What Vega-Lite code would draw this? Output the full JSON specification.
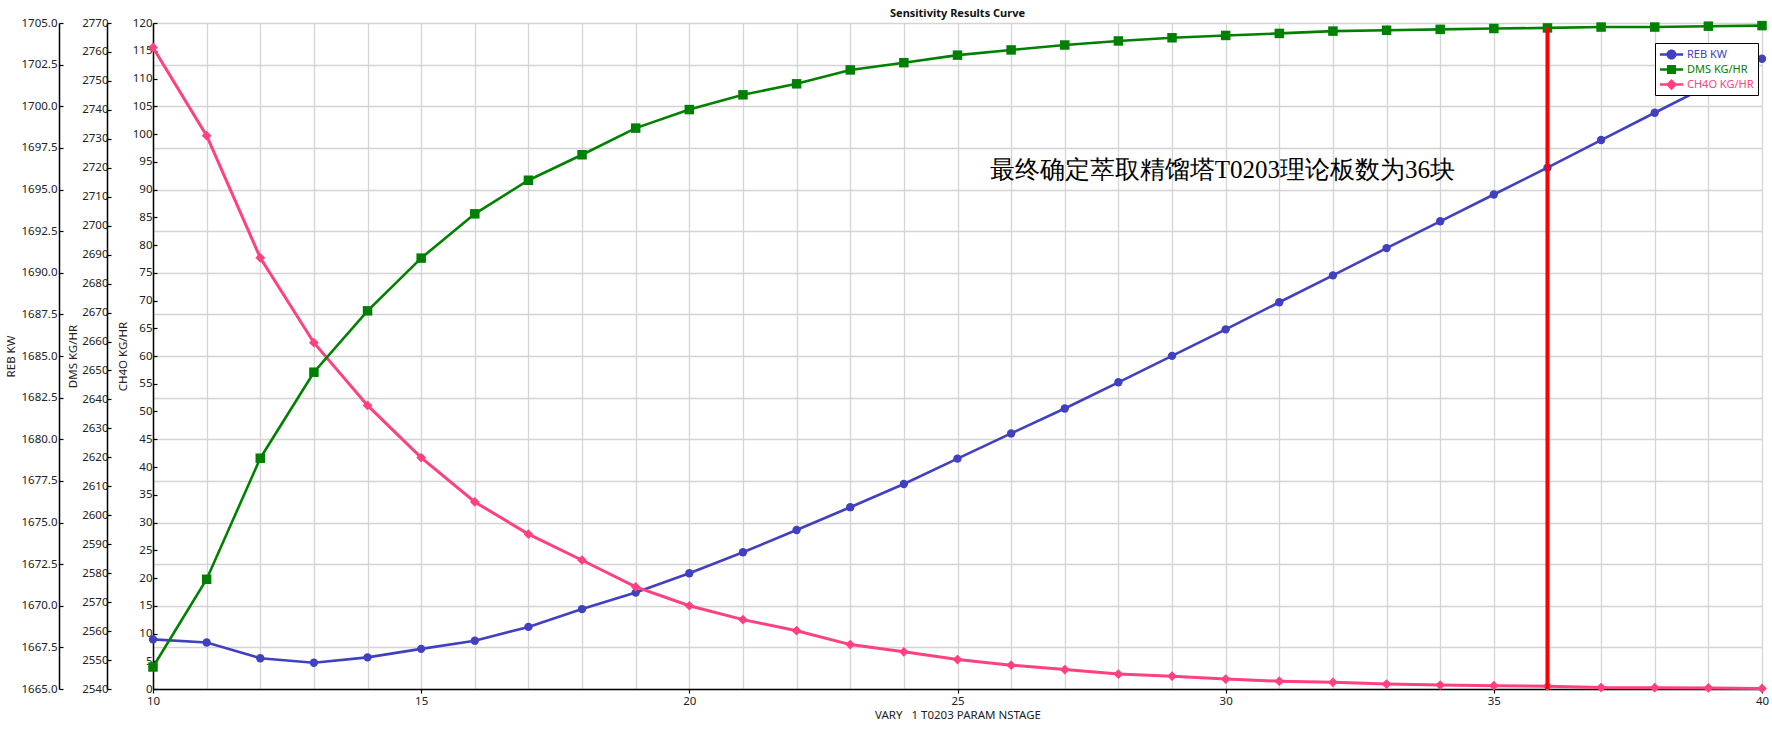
{
  "$schema": "https://vega.github.io/schema/vega-lite/v6.json",
  "description": "Sensitivity Results Curve - T0203 NSTAGE",
  "width": 1609,
  "height": 666,
  "autosize": {"type": "none"},
  "padding": {"left": 153, "top": 23, "right": 10, "bottom": 41},
  "title": {
    "text": "Sensitivity Results Curve",
    "font": "Noto Sans",
    "fontSize": 11,
    "fontWeight": "bold",
    "color": "#111111",
    "offset": -2
  },
  "datasets": {
    "sens": [
      {"stage": 10, "reb": 1667.98, "dms": 2547.6, "ch4o": 115.6},
      {"stage": 11, "reb": 1667.79, "dms": 2577.9, "ch4o": 99.7},
      {"stage": 12, "reb": 1666.85, "dms": 2619.7, "ch4o": 77.7},
      {"stage": 13, "reb": 1666.58, "dms": 2649.4, "ch4o": 62.4},
      {"stage": 14, "reb": 1666.90, "dms": 2670.6, "ch4o": 51.1},
      {"stage": 15, "reb": 1667.41, "dms": 2688.8, "ch4o": 41.7},
      {"stage": 16, "reb": 1667.90, "dms": 2704.1, "ch4o": 33.7},
      {"stage": 17, "reb": 1668.73, "dms": 2715.7, "ch4o": 27.9},
      {"stage": 18, "reb": 1669.80, "dms": 2724.5, "ch4o": 23.2},
      {"stage": 19, "reb": 1670.79, "dms": 2733.7, "ch4o": 18.4},
      {"stage": 20, "reb": 1671.95, "dms": 2740.1, "ch4o": 15.0},
      {"stage": 21, "reb": 1673.21, "dms": 2745.2, "ch4o": 12.5},
      {"stage": 22, "reb": 1674.55, "dms": 2749.0, "ch4o": 10.5},
      {"stage": 23, "reb": 1675.92, "dms": 2753.8, "ch4o": 8.0},
      {"stage": 24, "reb": 1677.31, "dms": 2756.3, "ch4o": 6.7},
      {"stage": 25, "reb": 1678.84, "dms": 2758.9, "ch4o": 5.3},
      {"stage": 26, "reb": 1680.35, "dms": 2760.7, "ch4o": 4.3},
      {"stage": 27, "reb": 1681.85, "dms": 2762.4, "ch4o": 3.5},
      {"stage": 28, "reb": 1683.42, "dms": 2763.8, "ch4o": 2.7},
      {"stage": 29, "reb": 1685.01, "dms": 2764.9, "ch4o": 2.3},
      {"stage": 30, "reb": 1686.60, "dms": 2765.7, "ch4o": 1.8},
      {"stage": 31, "reb": 1688.23, "dms": 2766.4, "ch4o": 1.4},
      {"stage": 32, "reb": 1689.84, "dms": 2767.2, "ch4o": 1.2},
      {"stage": 33, "reb": 1691.48, "dms": 2767.5, "ch4o": 0.9},
      {"stage": 34, "reb": 1693.09, "dms": 2767.8, "ch4o": 0.7},
      {"stage": 35, "reb": 1694.70, "dms": 2768.1, "ch4o": 0.6},
      {"stage": 36, "reb": 1696.31, "dms": 2768.3, "ch4o": 0.5},
      {"stage": 37, "reb": 1697.97, "dms": 2768.6, "ch4o": 0.25},
      {"stage": 38, "reb": 1699.61, "dms": 2768.6, "ch4o": 0.24},
      {"stage": 39, "reb": 1701.24, "dms": 2768.9, "ch4o": 0.2},
      {"stage": 40, "reb": 1702.85, "dms": 2769.1, "ch4o": 0.1}
    ]
  },
  "data": {"name": "sens"},
  "encoding": {
    "x": {
      "field": "stage",
      "type": "quantitative",
      "scale": {"domain": [10, 40], "nice": false, "zero": false},
      "axis": {
        "title": "VARY\u00a0\u00a0\u00a01 T0203 PARAM NSTAGE",
        "values": [10, 11, 12, 13, 14, 15, 16, 17, 18, 19, 20, 21, 22, 23, 24, 25, 26, 27, 28, 29, 30, 31, 32, 33, 34, 35, 36, 37, 38, 39, 40],
        "labelExpr": "datum.value % 5 === 0 ? datum.label : ''",
        "tickOpacity": {"condition": {"test": "datum.value % 5 === 0", "value": 1}, "value": 0},
        "tickSize": 4,
        "labelPadding": 2,
        "titlePadding": 3,
        "grid": true,
        "labelFlush": false
      }
    }
  },
  "layer": [
    {
      "encoding": {
        "y": {
          "field": "reb",
          "type": "quantitative",
          "scale": {"domain": [1665, 1705], "nice": false, "zero": false},
          "axis": {
            "title": "REB KW",
            "orient": "left",
            "offset": 94,
            "values": [1665, 1667.5, 1670, 1672.5, 1675, 1677.5, 1680, 1682.5, 1685, 1687.5, 1690, 1692.5, 1695, 1697.5, 1700, 1702.5, 1705],
            "format": ".1f",
            "grid": true,
            "tickSize": -4,
            "labelPadding": 6,
            "titlePadding": 5
          }
        },
        "color": {
          "datum": "REB KW",
          "scale": {"domain": ["REB KW", "DMS KG/HR", "CH4O KG/HR"], "range": ["#4040c0", "#008000", "#ff4081"]},
          "legend": {
            "title": null,
            "orient": "none",
            "legendX": 1502,
            "legendY": 20,
            "padding": 4,
            "symbolOffset": 5,
            "symbolSize": 225,
            "labelOffset": 8,
            "rowPadding": 2,
            "strokeColor": "#000000",
            "fillColor": "#ffffff",
            "labelFont": "Noto Sans",
            "labelFontSize": 11,
            "encode": {
              "labels": {"update": {"fill": {"scale": "color", "field": "value"}}},
              "symbols": {
                "update": {
                  "shape": {"signal": "datum.value === 'REB KW' ? 'M-1.55,-0.17H1.55V0.17H-1.55Z M0.67,0A0.67,0.67,0,1,1,-0.67,0A0.67,0.67,0,1,1,0.67,0Z' : datum.value === 'DMS KG/HR' ? 'M-1.55,-0.17H1.55V0.17H-1.55Z M-0.6,-0.6H0.6V0.6H-0.6Z' : 'M-1.55,-0.17H1.55V0.17H-1.55Z M0,-0.75L0.75,0L0,0.75L-0.75,0Z'"},
                  "size": {"value": 225},
                  "fill": {"scale": "color", "field": "value"},
                  "fillOpacity": {"value": 1},
                  "strokeWidth": {"value": 0}
                }
              }
            }
          }
        }
      },
      "layer": [
        {"mark": {"type": "line", "strokeWidth": 2.6}},
        {"mark": {"type": "point", "shape": "circle", "filled": true, "size": 70, "opacity": 1}}
      ]
    },
    {
      "encoding": {
        "y": {
          "field": "ch4o",
          "type": "quantitative",
          "scale": {"domain": [0, 120], "nice": false, "zero": false},
          "axis": {
            "title": "CH4O KG/HR",
            "orient": "left",
            "offset": 0,
            "values": [0, 5, 10, 15, 20, 25, 30, 35, 40, 45, 50, 55, 60, 65, 70, 75, 80, 85, 90, 95, 100, 105, 110, 115, 120],
            "grid": false,
            "tickSize": -4,
            "labelPadding": 5,
            "titlePadding": 4
          }
        },
        "color": {"datum": "CH4O KG/HR"}
      },
      "layer": [
        {"mark": {"type": "line", "strokeWidth": 3}},
        {"mark": {"type": "point", "shape": "diamond", "filled": true, "size": 95, "opacity": 1}},
        {
          "data": {"values": [{"note": "最终确定萃取精馏塔T0203理论板数为36块", "at_stage": 25.6, "at_ch4o": 93.6}]},
          "mark": {"type": "text", "align": "left", "baseline": "middle", "font": "Liberation Serif", "fontSize": 25},
          "encoding": {
            "x": {"field": "at_stage", "type": "quantitative"},
            "y": {"field": "at_ch4o", "type": "quantitative"},
            "text": {"field": "note", "type": "nominal"},
            "color": {"value": "#000000"}
          }
        }
      ]
    },
    {
      "encoding": {
        "y": {
          "field": "dms",
          "type": "quantitative",
          "scale": {"domain": [2540, 2770], "nice": false, "zero": false},
          "axis": {
            "title": "DMS KG/HR",
            "orient": "left",
            "offset": 46,
            "format": "d",
            "values": [2540, 2550, 2560, 2570, 2580, 2590, 2600, 2610, 2620, 2630, 2640, 2650, 2660, 2670, 2680, 2690, 2700, 2710, 2720, 2730, 2740, 2750, 2760, 2770],
            "grid": false,
            "tickSize": -4,
            "labelPadding": 3,
            "titlePadding": 3
          }
        },
        "color": {"datum": "DMS KG/HR"}
      },
      "layer": [
        {"mark": {"type": "line", "strokeWidth": 2.6}},
        {"mark": {"type": "square", "filled": true, "size": 90, "opacity": 1}},
        {
          "transform": [{"filter": "datum.stage === 36"}],
          "mark": {"type": "rule", "color": "#ff0000", "strokeWidth": 4},
          "encoding": {
            "y2": {"datum": 2540},
            "color": null
          }
        }
      ]
    }
  ],
  "resolve": {"scale": {"y": "independent"}},
  "config": {
    "view": {"stroke": null},
    "axis": {
      "labelFont": "Noto Sans",
      "labelFontSize": 11.5,
      "labelColor": "#222222",
      "titleFont": "Noto Sans",
      "titleFontSize": 11.5,
      "titleFontWeight": "normal",
      "titleColor": "#222222",
      "domainColor": "#000000",
      "domainWidth": 1.5,
      "tickColor": "#000000",
      "tickWidth": 1.2,
      "gridColor": "#d4d4d4",
      "gridWidth": 1.3,
      "gridOpacity": 1
    }
  }
}
